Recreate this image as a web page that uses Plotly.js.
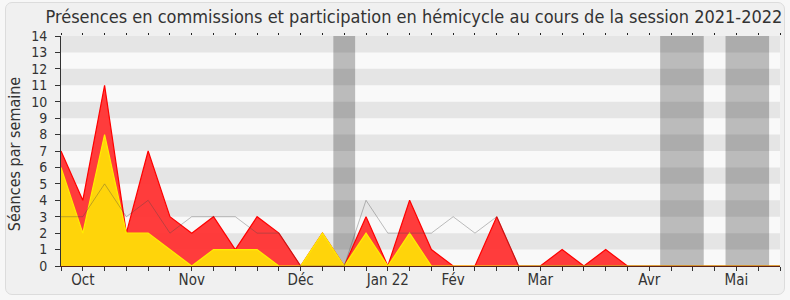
<!DOCTYPE html>
<html>
<head>
<meta charset="utf-8">
<script src="https://cdn.plot.ly/plotly-3.0.1.min.js"></script>
<style>
  html, body { margin: 0; padding: 0; background: #f7f7f7; }
  #frame { position: absolute; left: 5px; top: 2px; width: 778px; height: 291px;
           background: #f0f0f0; border: 1px solid #dcdcdc; border-radius: 7px; }
  #chart { position: absolute; left: 0; top: 0; width: 790px; height: 300px; }
</style>
</head>
<body>
<div id="frame"></div>
<div id="chart"></div>
<script>
// week index along the session
const weeks = [0,1,2,3,4,5,6,7,8,9,10,11,12,13,14,15,16,17,18,19,20,21,22,23,24,25,26,27,28,29,30,31,32,33];
// total sessions (commissions + hemicycle) per week
const totalSeances = [7,4,11,2,7,3,2,3,1,3,2,0,2,0,3,0,4,1,0,0,3,0,0,1,0,1,0,0,0,0,0,0,0,0];
// commissions presences per week
const commissions = [6,2,8,2,2,1,0,1,1,1,0,0,2,0,2,0,2,0,0,0,0,0,0,0,0,0,0,0,0,0,0,0,0,0];
// median deputy
const mediane = [3,3,5,3,4,2,3,3,3,2,2,0,0,0,4,2,2,2,3,2,3,0,0,0,0,0,0,0,0,0,0,0,0,0];
// month labels
const monthWeeks = [1,6,11,15,18,22,27,31];
const monthLabels = ["Oct","Nov","Déc","Jan 22","Fév","Mar","Avr","Mai"];
// holidays (week ranges)
const vacStart = [12.5, 27.5, 30.5];
const vacEnd = [13.5, 29.5, 32.5];

const tickText = weeks.map(w => {
  const i = monthWeeks.indexOf(w);
  return i >= 0 ? monthLabels[i] : "";
});

const shapes = [];
for (let i = 0; i < vacStart.length; i++) {
  shapes.push({type:'rect', xref:'x', yref:'paper', x0:vacStart[i], x1:vacEnd[i], y0:0, y1:1,
    fillcolor:'#bbbbbb', line:{width:0}, layer:'below'});
}
for (let y = 1; y < 14; y += 2) {
  shapes.push({type:'rect', xref:'paper', yref:'y', x0:0, x1:1, y0:y, y1:y+1,
    fillcolor:'rgba(0,0,0,0.08)', line:{width:0}, layer:'below'});
}

const traces = [
  {x: weeks, y: totalSeances, type:'scatter', mode:'lines', fill:'tozeroy',
   line:{color:'#ff0000', width:1.2}, fillcolor:'rgba(255,50,50,0.95)', hoverinfo:'skip'},
  {x: weeks, y: commissions, type:'scatter', mode:'lines', fill:'tozeroy',
   line:{color:'#ffee00', width:1.2}, fillcolor:'rgba(255,212,10,1)', hoverinfo:'skip'},
  {x: weeks, y: mediane, type:'scatter', mode:'lines',
   line:{color:'rgba(70,70,70,0.35)', width:1}, hoverinfo:'skip'},
  {x: weeks, y: weeks.map(()=>null), xaxis:'x2', yaxis:'y', type:'scatter', mode:'lines', hoverinfo:'skip', showlegend:false},
  {x: weeks, y: weeks.map(()=>null), xaxis:'x3', yaxis:'y', type:'scatter', mode:'lines', hoverinfo:'skip', showlegend:false}
];

const FONT = '"DejaVu Sans Condensed", "DejaVu Sans", sans-serif';
const layout = {
  width: 790, height: 300,
  margin: {l:61, r:10, t:36, b:34},
  paper_bgcolor: 'rgba(0,0,0,0)',
  plot_bgcolor: '#f9f9f9',
  showlegend: false,
  font: {family: FONT, color:'#333', size: 14},
  title: {text: 'Présences en commissions et participation en hémicycle au cours de la session 2021-2022',
          font:{family: FONT, size:18, color:'#333'}, xref:'container', yref:'container',
          x: 0.524, xanchor:'center', y: 0.943, yanchor:'middle'},
  xaxis: {range:[0,33], tickmode:'array', tickvals: weeks, ticktext: tickText,
          ticks:'', showgrid:false, zeroline:false,
          showline:true, linecolor:'#5a2218', linewidth:1,
          tickfont:{family: FONT, size:15, color:'#333'}},
  xaxis2: {range:[0,33], overlaying:'x', side:'top', tickmode:'array', tickvals: weeks,
           ticks:'outside', ticklen:2, tickcolor:'#222', showticklabels:false, showgrid:false,
           zeroline:false, showline:false},
  xaxis3: {range:[0,33], overlaying:'x', side:'bottom', tickmode:'array', tickvals: weeks,
           ticks:'outside', ticklen:4, tickcolor:'#333', showticklabels:false, showgrid:false,
           zeroline:false, showline:false},
  yaxis: {range:[0,14], dtick:1, tick0:0, ticks:'outside', ticklen:5, tickcolor:'#333',
          showgrid:false, zeroline:false, showline:true, linecolor:'#333', linewidth:1,
          ticklabelstandoff:5,
          tickfont:{family: FONT, size:14, color:'#333'}},
  annotations: [{text:'Séances par semaine', xref:'paper', yref:'paper', x:-0.0655, y:0.49,
                 xanchor:'center', yanchor:'middle', textangle:-90, showarrow:false,
                 font:{family: FONT, size:16, color:'#333'}}],
  shapes: shapes
};

Plotly.newPlot('chart', traces, layout, {staticPlot:true, displayModeBar:false});
</script>
</body>
</html>
